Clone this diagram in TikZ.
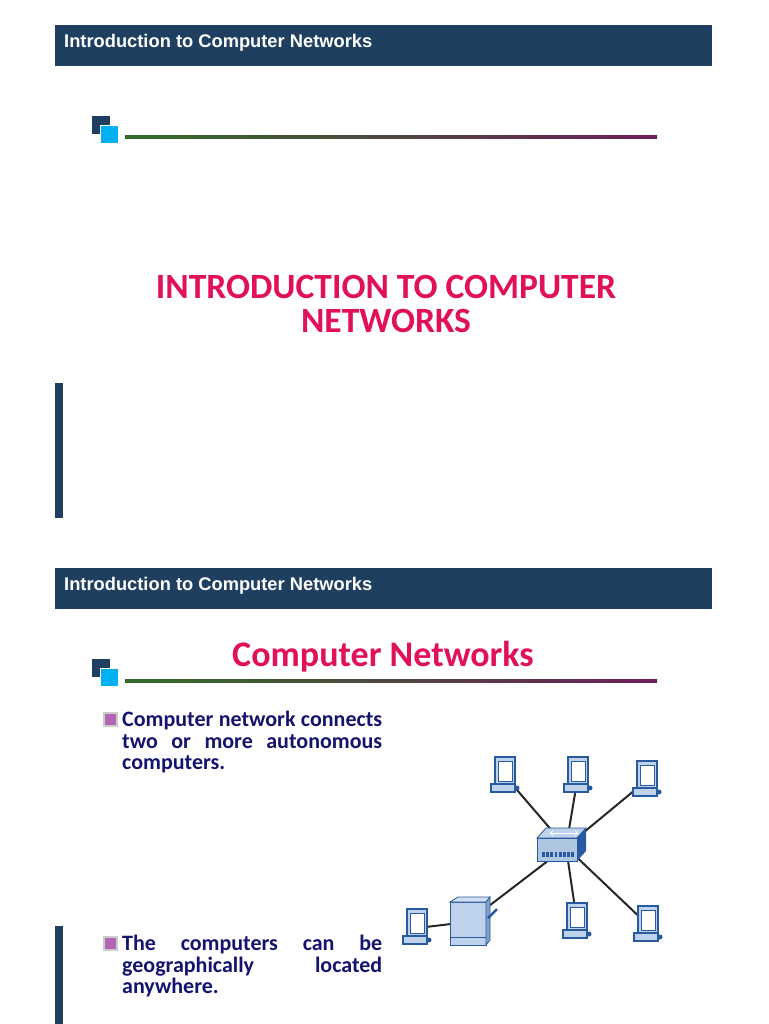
\documentclass[tikz,border=0pt]{standalone}
\usepackage{fontspec}
\setmainfont{Carlito}
\newfontfamily\hdfont{Liberation Sans}
\definecolor{navy}{RGB}{31,63,96}
\definecolor{pinkt}{RGB}{224,16,90}
\definecolor{txtblue}{RGB}{20,20,110}
\definecolor{lightb}{RGB}{0,176,240}
\definecolor{pcblue}{RGB}{40,90,160}
\definecolor{pcfill}{RGB}{190,210,235}
\definecolor{lgreen}{RGB}{50,110,40}
\definecolor{lpurp}{RGB}{110,30,90}
\tikzset{
 hdr/.style={fill=navy,draw=none},
 hdrtext/.style={text=white,font=\hdfont\bfseries\fontsize{18.3}{20}\selectfont,anchor=west,inner sep=0pt},
 pcicon/.pic={
   \fill[pcfill,draw=pcblue,line width=1.5pt] (-10,-19) rectangle (10,8);
   \fill[white,draw=pcblue,line width=1pt] (-7,-15) rectangle (7,5);
   \fill[pcfill,draw=pcblue,line width=1.5pt] (-14,8) -- (10,8) -- (10,16) -- (-14,16) -- cycle;
   \fill[pcblue] (12,12) circle (2.5);
 },
 link/.style={line width=2pt,black!85},
 body/.style={text=txtblue,font=\bfseries\fontsize{22}{21.5}\selectfont,text width=260pt,align=justify,anchor=north west,inner sep=0pt},
 bul/.style={fill=violet!60!white,draw=gray!40,line width=2pt,minimum size=13pt,inner sep=0pt}
}
\begin{document}
\hyphenpenalty=10000 \exhyphenpenalty=10000
\begin{tikzpicture}[x=1pt,y=-1pt]
\useasboundingbox (0,0) rectangle (768,1024);
% slide 1
\fill[hdr] (55,25) rectangle (712,66);
\node[hdrtext] (h1) at (64,43) {Introduction to Computer Networks};
\fill[navy] (92,116) rectangle (110,134);
\fill[lightb,draw=white,line width=0.5pt] (100,125) rectangle (118,143);
\shade[left color=lgreen,right color=lpurp] (125,136) rectangle (657,139);
\node[text=pinkt,font=\bfseries\fontsize{35.5}{34}\selectfont,align=center] (t1) at (386,304) {INTRODUCTION TO COMPUTER\\NETWORKS};
\fill[navy] (55,383) rectangle (63,518);
% slide 2
\fill[hdr] (55,568) rectangle (712,609);
\node[hdrtext] (h2) at (64,586) {Introduction to Computer Networks};
\fill[navy] (92,659) rectangle (110,677);
\fill[lightb,draw=white,line width=0.5pt] (100,668) rectangle (118,686);
\shade[left color=lgreen,right color=lpurp] (125,679) rectangle (657,682);
\node[text=pinkt,font=\bfseries\fontsize{36}{40}\selectfont] (t2) at (383,657) {Computer Networks};
\node[bul] (b1) at (110,719) {};
\node[body] (p1) at (122,711) {Computer network connects two or more autonomous computers.};
\node[bul] (b2) at (110,943) {};
\node[body] (p2) at (122,935) {The computers can be geographically located anywhere.};
\fill[navy] (55,926) rectangle (63,1024);
% network
\coordinate (sw) at (566,847);
\coordinate (c1) at (505,776);
\coordinate (c2) at (578,776);
\coordinate (c3) at (647,780);
\coordinate (c4) at (417,928);
\coordinate (c5) at (577,922);
\coordinate (c6) at (648,925);
\coordinate (sv) at (468,922);
\foreach \c in {c1,c2,c3,c5,c6,sv} \draw[link] (sw) -- (\c);
\draw[link] (c4) -- (sv);
\foreach \c in {c1,c2,c3,c4,c5,c6} \pic at (\c) {pcicon};
% server
\fill[pcfill,draw=pcblue,line width=1pt] (450,902) rectangle (486,945);
\fill[pcfill!70!white,draw=pcblue,line width=0.8pt] (450,902) -- (458,897) -- (490,897) -- (486,902) -- cycle;
\fill[pcfill!60!pcblue,draw=pcblue,line width=0.8pt] (486,902) -- (490,897) -- (490,940) -- (486,945) -- cycle;
\draw[pcblue] (450,937) -- (486,937);
\draw[pcblue,line width=2.5pt] (488,918) -- (497,909);
% switch
\fill[pcfill,draw=pcblue,line width=0.8pt] (537,838) -- (546,828) -- (586,828) -- (577,838) -- cycle;
\fill[pcfill!90!pcblue,draw=pcblue,line width=0.8pt] (537,838) rectangle (577,861);
\fill[pcblue] (577,838) -- (586,828) -- (586,851) -- (577,861) -- cycle;
\draw[white,line width=1pt,<->] (550,833) -- (578,833);
\foreach \i in {0,...,7} \fill[pcblue] (542+\i*4.2,852) rectangle (544.8+\i*4.2,857);
\end{tikzpicture}
\end{document}
